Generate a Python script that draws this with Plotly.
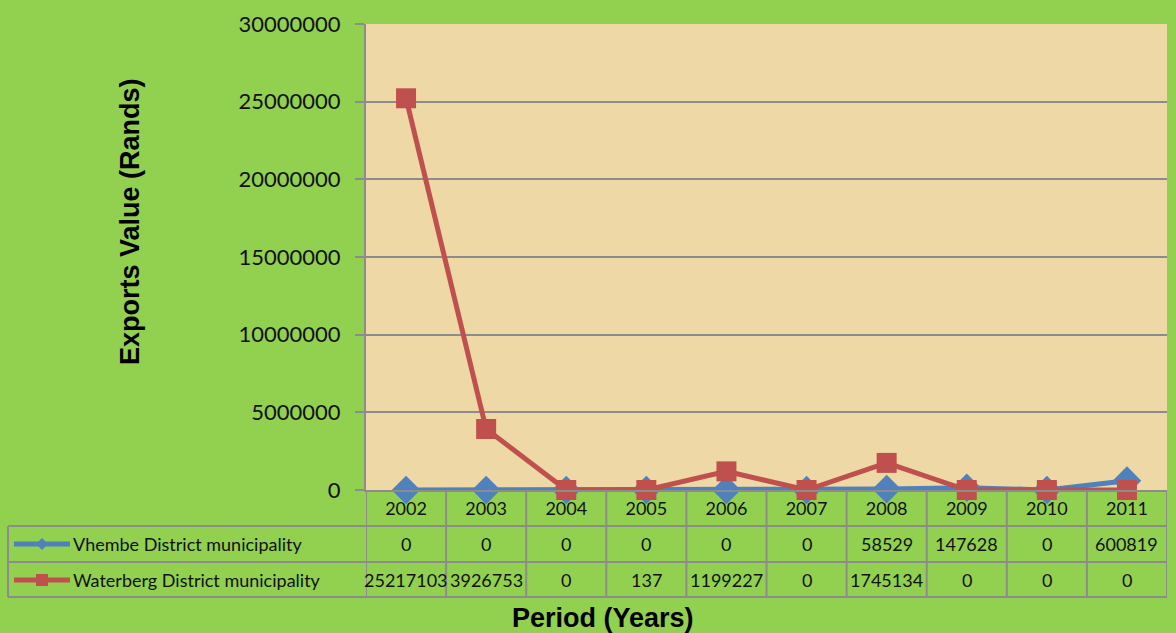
import plotly.graph_objects as go

years = ['2002', '2003', '2004', '2005', '2006', '2007', '2008', '2009', '2010', '2011']
vhembe = [0, 0, 0, 0, 0, 0, 58529, 147628, 0, 600819]
waterberg = [25217103, 3926753, 0, 137, 1199227, 0, 1745134, 0, 0, 0]
series_names = ['Vhembe District municipality', 'Waterberg District municipality']

W, H = 1176, 633
L, R, T, B = 366, 1167, 24, 490  # plot area pixels

def px(xp):
    return (xp - L) / (R - L)

def py(yp):
    return (B - yp) / (B - T)

GREEN = '#92D050'
PARCH = '#EED9A6'
GRID = '#8C8C8C'
BLUE = '#4F81BD'
RED = '#C0504D'

fig = go.Figure()
fig.add_trace(go.Scatter(x=years, y=vhembe, mode='lines+markers', name=series_names[0],
                         line=dict(color=BLUE, width=5), cliponaxis=False,
                         marker=dict(symbol='diamond', size=22, color=BLUE)))
fig.add_trace(go.Scatter(x=years, y=waterberg, mode='lines+markers', name=series_names[1],
                         line=dict(color=RED, width=5), cliponaxis=False,
                         marker=dict(symbol='square', size=20, color=RED)))

shapes = []
for i in range(len(years) + 1):
    shapes.append(dict(type='line', xref='x', yref='paper', x0=i - 0.5, x1=i - 0.5,
                       y0=py(B), y1=py(597), line=dict(color=GRID, width=2), layer='below'))
for yy in [526, 562, 597]:
    shapes.append(dict(type='line', xref='paper', yref='paper', x0=px(8), x1=1,
                       y0=py(yy), y1=py(yy), line=dict(color=GRID, width=2)))
shapes.append(dict(type='line', xref='paper', yref='paper', x0=px(8), x1=px(8),
                   y0=py(526), y1=py(597), line=dict(color=GRID, width=2)))

rows_y = [544, 580]
colors = [BLUE, RED]
for k, yy in enumerate(rows_y):
    shapes.append(dict(type='line', xref='paper', yref='paper', x0=px(14), x1=px(70),
                       y0=py(yy), y1=py(yy), line=dict(color=colors[k], width=5)))
cx, cy = 42, rows_y[0]
d = 6
shapes.append(dict(type='path', xref='paper', yref='paper',
                   path=f'M {px(cx - d)} {py(cy)} L {px(cx)} {py(cy - d)} L {px(cx + d)} {py(cy)} L {px(cx)} {py(cy + d)} Z',
                   fillcolor=BLUE, line=dict(width=0)))
cx, cy = 42, rows_y[1]
s = 6
shapes.append(dict(type='rect', xref='paper', yref='paper', x0=px(cx - s), x1=px(cx + s),
                   y0=py(cy - s), y1=py(cy + s), fillcolor=RED, line=dict(width=0)))

annotations = []
tfont = dict(family='Lato, sans-serif', size=18, color='#111111')
for k, yy in enumerate(rows_y):
    annotations.append(dict(xref='paper', yref='paper', x=px(71), y=py(yy), text=series_names[k],
                            showarrow=False, xanchor='left', yanchor='middle', font=tfont))
for k, vals in enumerate([vhembe, waterberg]):
    for i, v in enumerate(vals):
        annotations.append(dict(xref='x', yref='paper', x=i, y=py(rows_y[k]), text=str(v),
                                showarrow=False, xanchor='center', yanchor='middle', font=tfont))
tt_font = dict(family='Liberation Sans, Arial, sans-serif', size=27, color='#000000')
annotations.append(dict(xref='paper', yref='paper', x=px(130), y=py(222), text='<b>Exports Value (Rands)</b>',
                        textangle=-90, showarrow=False, xanchor='center', yanchor='middle', font=tt_font))
annotations.append(dict(xref='paper', yref='paper', x=px(603), y=py(618), text='<b>Period (Years)</b>',
                        showarrow=False, xanchor='center', yanchor='middle', font=tt_font))

fig.update_layout(
    width=W, height=H,
    margin=dict(l=L, r=W - R, t=T, b=H - B, pad=0),
    paper_bgcolor=GREEN, plot_bgcolor=PARCH,
    showlegend=False,
    shapes=shapes, annotations=annotations,
    xaxis=dict(type='category', range=[-0.5, 9.5], showgrid=False, zeroline=False,
               showline=True, linecolor=GRID, linewidth=2, ticks='',
               tickfont=tfont, ticklabelstandoff=1),
    yaxis=dict(range=[0, 30000000], dtick=5000000, tickformat='d', showgrid=True,
               gridcolor=GRID, gridwidth=2, zeroline=False, showline=True, linecolor=GRID,
               linewidth=2, ticks='outside', ticklen=9, tickcolor=GRID, tickwidth=2,
               ticklabelstandoff=10,
               tickfont=dict(family='Lato, sans-serif', size=22, color='#111111')),
)

fig.write_html('out.html', config={'displayModeBar': False},
               post_script="document.body.style.margin='0px';document.body.style.background='#92D050';")
